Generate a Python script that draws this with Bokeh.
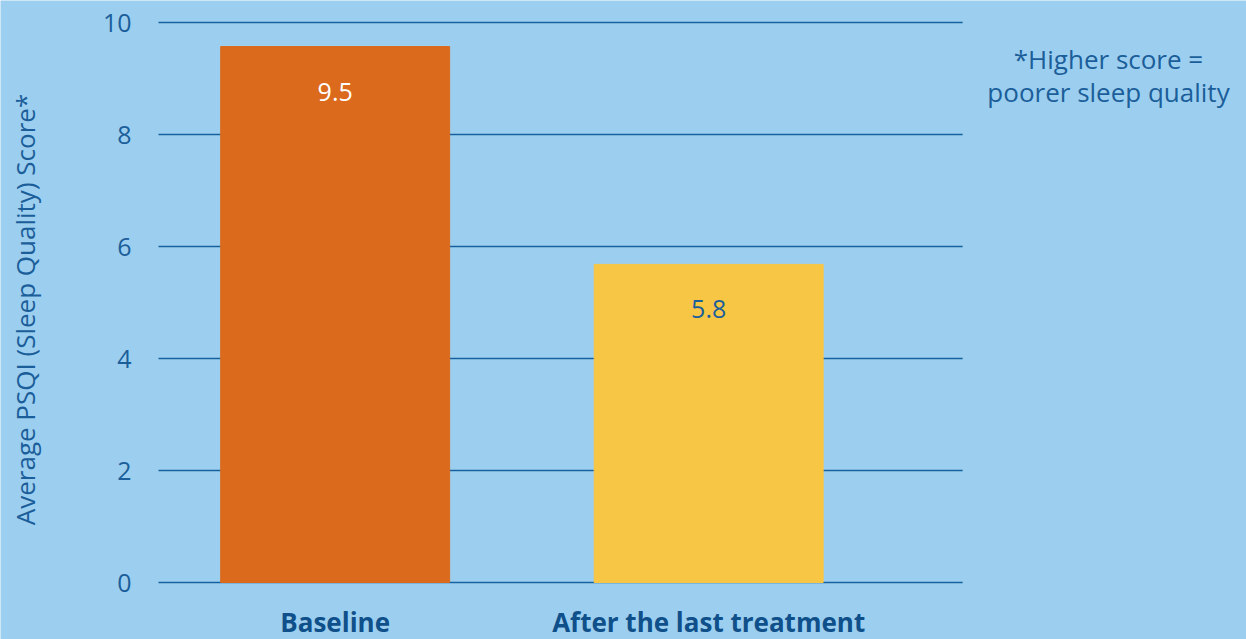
import math
from bokeh.plotting import figure
from bokeh.models import Range1d, Label, ColumnDataSource
from bokeh.core.properties import value
from bokeh.embed import file_html
from bokeh.resources import INLINE

categories = ["Baseline", "After the last treatment"]
scores = [9.57, 5.68]
score_labels = ["9.5", "5.8"]
bar_colors = ["#db6a1c", "#f8c645"]
label_colors = ["#ffffff", "#1b5e9a"]
y_ticks = [0, 2, 4, 6, 8, 10]
y_tick_labels = [str(t) for t in y_ticks]
y_title = "Average PSQI (Sleep Quality) Score*"
note_lines = ["*Higher score =", "poorer sleep quality"]

FONT = "Open Sans"
BG = "#9ccfef"
TXT = "#1b5e9a"
GRID = "#17609e"
CAT = "#0f4f8a"

# layout: 56 px per y unit, 373.5 px per category step
W, H = 1246, 639
LEFT = 158          # screen x where the chart area starts
PX_Y = 56.0
PX_X = 373.5
Y0_PX = 582         # screen y of value 0

xpos = [i + 1 for i in range(len(categories))]
gx0 = xpos[0] - 0.473   # chart area left (data)
gx1 = xpos[-1] + 0.68   # chart area right (data)
X_START = gx0 - LEFT / PX_X

src = ColumnDataSource(dict(x=xpos, top=scores, color=bar_colors,
                            lab=score_labels, lcol=label_colors, cat=categories,
                            zero=[0] * len(categories)))
tick_src = ColumnDataSource(dict(y=y_ticks, lab=y_tick_labels,
                                 x0=[gx0] * len(y_ticks), x1=[gx1] * len(y_ticks)))

y_range = Range1d(-(H - Y0_PX) / PX_Y, Y0_PX / PX_Y)
x_range = Range1d(X_START, X_START + W / PX_X)

p = figure(width=W, height=H, output_backend="svg", toolbar_location=None,
           x_range=x_range, y_range=y_range, x_axis_location=None,
           y_axis_location=None, min_border=0)
p.background_fill_color = BG
p.border_fill_color = BG
p.outline_line_color = None
p.grid.visible = False

# horizontal grid lines spanning the chart area only
p.segment(x0="x0", x1="x1", y0="y", y1="y", source=tick_src,
          line_color=GRID, line_width=1.5)
# y tick labels
p.text(x="x0", y="y", text="lab", source=tick_src, x_offset=-27,
       text_font=value(FONT), text_font_size="25px", text_color=TXT,
       text_align="right", text_baseline="middle")
# y axis title
p.text(x=[gx0], y=[(y_ticks[0] + y_ticks[-1]) / 2], text=[y_title],
       x_offset=24 - LEFT, y_offset=7, angle=math.pi / 2,
       text_font=value(FONT), text_font_size="26px", text_color=TXT,
       text_align="center", text_baseline="middle")

p.vbar(x="x", top="top", bottom=0, width=0.613, color="color", source=src)
p.text(x="x", y="top", text="lab", text_color="lcol", source=src,
       text_font=value(FONT), text_font_size="25px", text_align="center",
       text_baseline="middle", y_offset=45)
p.text(x="x", y="zero", text="cat", text_color=CAT, source=src,
       text_font=value(FONT), text_font_size="26px", text_font_style="bold",
       text_align="center", text_baseline="middle", y_offset=39)

note_x = X_START + 1108 / PX_X
for txt, mid_px in zip(note_lines, [58, 91]):
    p.add_layout(Label(x=note_x, y=(Y0_PX - mid_px) / PX_Y, text=txt,
                       text_font=FONT, text_font_size="26px", text_color=TXT,
                       text_align="center", text_baseline="middle"))

open("out.html", "w").write(file_html(p, INLINE))
